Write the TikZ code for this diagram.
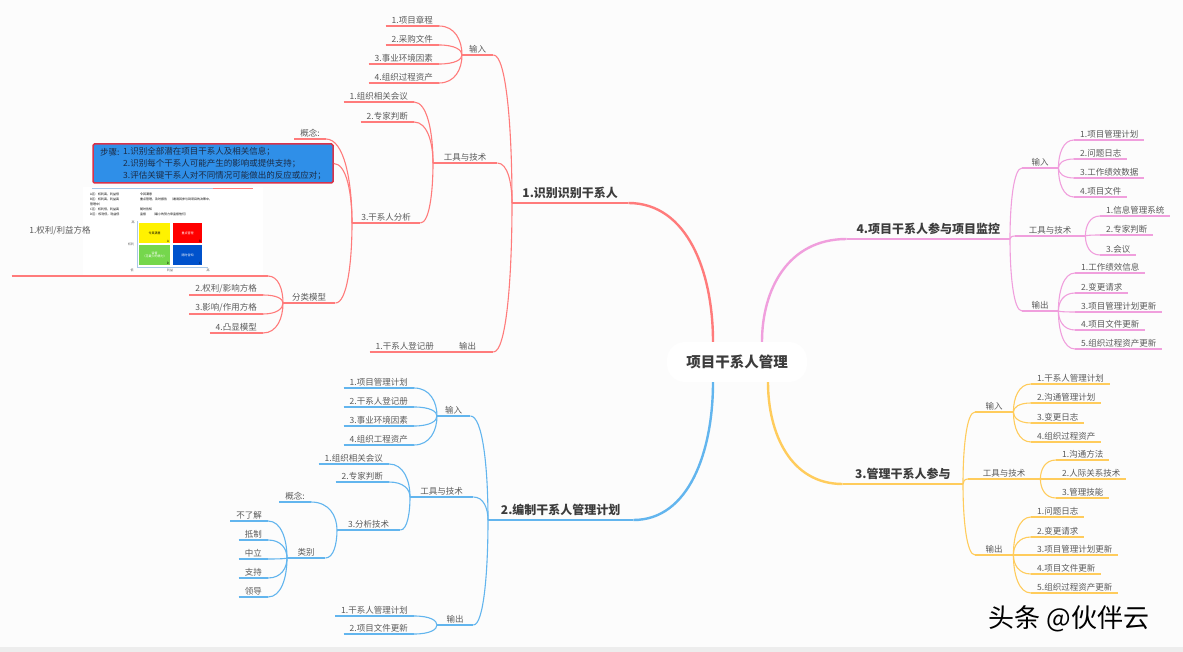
\documentclass[tikz,border=0pt]{standalone}
\usepackage{fontspec}
\setmainfont{Noto Sans CJK SC}
\usetikzlibrary{calc}
\definecolor{bg}{HTML}{FCFCFC}
\definecolor{cR}{HTML}{FF7B7B}
\definecolor{cB}{HTML}{62B5EE}
\definecolor{cP}{HTML}{F09FDD}
\definecolor{cY}{HTML}{FFCC5C}
\definecolor{tx}{HTML}{5A5A5A}
\definecolor{hx}{HTML}{3C3C3C}
\definecolor{boxblue}{HTML}{2F8FE8}
\definecolor{boxred}{HTML}{D8324A}
\definecolor{boxtx}{HTML}{1B2B45}
\definecolor{axis}{HTML}{A8C8E8}
\newcommand\lblf{\fontsize{8.5}{10}\selectfont}
\newcommand\hdf{\fontsize{12}{14}\selectfont\bfseries}
\newcommand\ctrf{\fontsize{14.5}{17}\selectfont\bfseries}
\newcommand\tinf{\fontsize{3}{3.5}\selectfont}
\newcommand\mmC[3][]{\draw[cn,#1] (#2) .. controls ($(#2)!0.5!(#2|-#3)$) and ($(#3)!0.7!(#2|-#3)$) .. (#3);}
\newcommand\leafL[3]{\node[lf,anchor=south east] (#1) at (#2) {#3}; \draw[ul] (#1.south west) -- (#1.south east);}
\newcommand\leafR[3]{\node[lf,anchor=south west] (#1) at (#2) {#3}; \draw[ul] (#1.south west) -- (#1.south east);}
\newcommand\midN[4]{\node[lf,anchor=south west,inner xsep=0pt,minimum width=#2] (#1) at (#3) {#4}; \draw[ul] (#1.south west) -- (#1.south east);}
\tikzset{
  lf/.style={font=\lblf, text=tx, inner xsep=6pt, inner ysep=2pt},
  hd/.style={font=\hdf, text=hx, inner xsep=0pt, inner ysep=4pt},
  tq/.style={font=\tinf, inner sep=0pt, text=black},
}
\begin{document}
\begin{tikzpicture}[x=1pt,y=-1pt]
\useasboundingbox (0,0) rectangle (1183,652);
\fill[bg] (0,0) rectangle (1183,652);
\fill[black!7] (0,647) rectangle (1183,652);

% centre
\node[fill=white, rounded corners=18pt, minimum width=140pt, minimum height=40pt, font=\ctrf, text=hx] (c) at (737,362) {项目干系人管理};
\coordinate (s1) at ([xshift=-24pt]c.north);
\coordinate (s4) at ([xshift=25pt]c.north);
\coordinate (s2) at ([xshift=-24pt]c.south);
\coordinate (s3) at ([xshift=31pt]c.south);

% ---------------- branch 1 (red)
\begin{scope}[ul/.style={draw=cR,line width=1.1pt}, cn/.style={draw=cR,line width=1.1pt}]
\node[hd, anchor=south west, minimum width=116pt] (b1) at (512,203) {1.识别识别干系人};
\draw[ul, line width=1.6pt] (b1.south west) -- (b1.south east);
\mmC[line width=2.4pt]{s1}{b1.south east}
\midN{b1i}{31pt}{462,55}{输入}
\midN{b1t}{64pt}{433,163}{工具与技术}
\midN{b1o}{51pt}{442,352}{输出}
\mmC{b1.south west}{b1i.south east}
\mmC{b1.south west}{b1t.south east}
\mmC{b1.south west}{b1o.south east}
\leafL{b1i1}{439,26}{1.项目章程}
\leafL{b1i2}{439,45}{2.采购文件}
\leafL{b1i3}{439,64}{3.事业环境因素}
\leafL{b1i4}{439,83}{4.组织过程资产}
\foreach \n in {b1i1,b1i2,b1i3,b1i4}{\mmC{b1i.south west}{\n.south east}}
\leafL{b1t1}{414,102}{1.组织相关会议}
\leafL{b1t2}{414,122}{2.专家判断}
\midN{b1t3}{68pt}{352,223}{3.干系人分析}
\foreach \n in {b1t1,b1t2,b1t3}{\mmC{b1t.south west}{\n.south east}}
% children of 3.干系人分析
\leafL{b1a1}{326,139}{概念:}
\node[fill=boxblue, draw=boxred, line width=1.5pt, rounded corners=1.5pt, minimum width=240pt, minimum height=39pt] (b1a2) at (213,163.5) {};
\node[font=\lblf, text=boxtx, anchor=west, inner sep=0pt] (bx0) at (100,152) {步骤:};
\node[font=\lblf, text=boxtx, anchor=west, inner sep=0pt] (bx1) at (123,152) {1.识别全部潜在项目干系人及相关信息；};
\node[font=\lblf, text=boxtx, anchor=west, inner sep=0pt] (bx2) at (123,164) {2.识别每个干系人可能产生的影响或提供支持；};
\node[font=\lblf, text=boxtx, anchor=west, inner sep=0pt] (bx3) at (123,176) {3.评估关键干系人对不同情况可能做出的反应或应对；};
\node[anchor=south east, minimum width=256pt, minimum height=88pt, inner sep=0pt] (b1a3) at (268,276) {};
\draw[ul] (b1a3.south west) -- (b1a3.south east);
\midN{b1a4}{52pt}{283,303}{分类模型}
\mmC{b1t3.south west}{b1a1.south east}
\mmC{b1t3.south west}{b1a2.east}
\mmC{b1t3.south west}{b1a4.south east}
% matrix image
\fill[white] (83,187) rectangle (263,275);
\draw[axis, line width=0.8pt] (92,188) -- (213,188);
\draw[cR, line width=1pt] (213,189) -- (253,189);
\node[tq, anchor=west] (m1) at (90,194) {A区：权利高，利益低};
\node[tq, anchor=west] (m1b) at (140,194) {令其满意};
\node[tq, anchor=west] (m2) at (90,199) {B区：权利高，利益高};
\node[tq, anchor=west] (m2b) at (140,199) {重点管理，及时报告\quad（邀请其参与到项目的决策中，};
\node[tq, anchor=west] (m2c) at (90,204) {管理中）};
\node[tq, anchor=west] (m3) at (90,209) {C区：权利低，利益高};
\node[tq, anchor=west] (m3b) at (140,209) {随时告知};
\node[tq, anchor=west] (m4) at (90,214) {D区：权利低，利益低};
\node[tq, anchor=west] (m4b) at (140,214) {监督\qquad（最小的努力来监督他们）};
\fill[yellow] (139,223) rectangle (170,243);
\fill[red] (173,223) rectangle (202,243);
\fill[green!55!olive!70!white] (139,245) rectangle (170,265);
\fill[blue!60!cyan!80!black] (173,245) rectangle (202,265);
\draw[axis, line width=0.8pt] (137,221) -- (137,267) -- (208,267);
\node[tq] (q1) at (154.5,233) {令其满意};
\node[tq, text=white] (q2) at (187.5,233) {重点管理};
\node[tq, text=white, align=center] (q3) at (154.5,255) {监督\\（花最少的精力）};
\node[tq, text=white] (q4) at (187.5,255) {随时告知};
\node[tq] (qa) at (168,241.5) {A};
\node[tq] (qb) at (200,241.5) {B};
\node[tq] (qd) at (168,263.5) {D};
\node[tq] (qc) at (200,263.5) {C};
\node[tq, text=tx] (ax1) at (133,222) {高};
\node[tq, text=tx] (ax2) at (131,244) {权利};
\node[tq, text=tx] (ax3) at (132,270) {低};
\node[tq, text=tx] (ax4) at (170,270) {利益};
\node[tq, text=tx] (ax5) at (208,270) {高};
\node[lf, anchor=center] (b1m1) at (60,231) {1.权利/利益方格};
\leafL{b1m2}{263,295}{2.权利/影响方格}
\leafL{b1m3}{263,314}{3.影响/作用方格}
\leafL{b1m4}{263,333}{4.凸显模型}
\foreach \n in {b1a3,b1m2,b1m3,b1m4}{\mmC{b1a4.south west}{\n.south east}}
\leafL{b1o1}{440,352}{1.干系人登记册}
\draw[cn] (b1o.south west) -- (b1o1.south east);
\end{scope}

% ---------------- branch 2 (blue)
\begin{scope}[ul/.style={draw=cB,line width=1.1pt}, cn/.style={draw=cB,line width=1.1pt}]
\node[hd, anchor=south west, minimum width=145pt] (b2) at (488,520) {2.编制干系人管理计划};
\draw[ul, line width=1.6pt] (b2.south west) -- (b2.south east);
\mmC[line width=2.4pt]{s2}{b2.south east}
\midN{b2i}{33pt}{437,416}{输入}
\midN{b2t}{63pt}{410,497}{工具与技术}
\midN{b2o}{36pt}{437,625}{输出}
\foreach \n in {b2i,b2t,b2o}{\mmC{b2.south west}{\n.south east}}
\leafL{b2i1}{414,388}{1.项目管理计划}
\leafL{b2i2}{414,407}{2.干系人登记册}
\leafL{b2i3}{414,426}{3.事业环境因素}
\leafL{b2i4}{414,445}{4.组织工程资产}
\foreach \n in {b2i1,b2i2,b2i3,b2i4}{\mmC{b2i.south west}{\n.south east}}
\leafL{b2t1}{389,464}{1.组织相关会议}
\leafL{b2t2}{389,482}{2.专家判断}
\midN{b2t3}{63pt}{337,530}{3.分析技术}
\foreach \n in {b2t1,b2t2,b2t3}{\mmC{b2t.south west}{\n.south east}}
\leafL{b2a1}{311,502}{概念:}
\midN{b2c}{38pt}{287,558}{类别}
\foreach \n in {b2a1,b2c}{\mmC{b2t3.south west}{\n.south east}}
\leafL{b2c1}{268,521}{不了解}
\leafL{b2c2}{268,540}{抵制}
\leafL{b2c3}{268,559}{中立}
\leafL{b2c4}{268,578}{支持}
\leafL{b2c5}{268,597}{领导}
\foreach \n in {b2c1,b2c2,b2c3,b2c4,b2c5}{\mmC{b2c.south west}{\n.south east}}
\leafL{b2o1}{414,616}{1.干系人管理计划}
\leafL{b2o2}{414,634}{2.项目文件更新}
\foreach \n in {b2o1,b2o2}{\mmC{b2o.south west}{\n.south east}}
\end{scope}

% ---------------- branch 4 (pink)
\begin{scope}[ul/.style={draw=cP,line width=1.1pt}, cn/.style={draw=cP,line width=1.1pt}]
\node[hd, anchor=south east, minimum width=163pt] (b4) at (1010,239) {4.项目干系人参与项目监控};
\draw[ul, line width=1.6pt] (b4.south west) -- (b4.south east);
\mmC[line width=2.4pt]{s4}{b4.south west}
\midN{b4i}{36pt}{1022,168}{输入}
\midN{b4t}{70pt}{1015,236}{工具与技术}
\midN{b4o}{36pt}{1022,311}{输出}
\foreach \n in {b4i,b4t,b4o}{\mmC{b4.south east}{\n.south west}}
\leafR{b4i1}{1074,140}{1.项目管理计划}
\leafR{b4i2}{1074,159}{2.问题日志}
\leafR{b4i3}{1074,178}{3.工作绩效数据}
\leafR{b4i4}{1074,197}{4.项目文件}
\foreach \n in {b4i1,b4i2,b4i3,b4i4}{\mmC{b4i.south east}{\n.south west}}
\leafR{b4t1}{1100,216}{1.信息管理系统}
\leafR{b4t2}{1100,235}{2.专家判断}
\leafR{b4t3}{1100,255}{3.会议}
\foreach \n in {b4t1,b4t2,b4t3}{\mmC{b4t.south east}{\n.south west}}
\leafR{b4o1}{1075,273}{1.工作绩效信息}
\leafR{b4o2}{1075,293}{2.变更请求}
\leafR{b4o3}{1075,312}{3.项目管理计划更新}
\leafR{b4o4}{1075,330}{4.项目文件更新}
\leafR{b4o5}{1075,349}{5.组织过程资产更新}
\foreach \n in {b4o1,b4o2,b4o3,b4o4,b4o5}{\mmC{b4o.south east}{\n.south west}}
\end{scope}

% ---------------- branch 3 (yellow)
\begin{scope}[ul/.style={draw=cY,line width=1.1pt}, cn/.style={draw=cY,line width=1.1pt}]
\node[hd, anchor=south east, minimum width=120pt] (b3) at (963,484) {3.管理干系人参与};
\draw[ul, line width=1.6pt] (b3.south west) -- (b3.south east);
\mmC[line width=2.4pt]{s3}{b3.south west}
\midN{b3i}{38pt}{975,412}{输入}
\midN{b3t}{72pt}{968,479}{工具与技术}
\midN{b3o}{38pt}{975,555}{输出}
\foreach \n in {b3i,b3t,b3o}{\mmC{b3.south east}{\n.south west}}
\leafR{b3i1}{1031,384}{1.干系人管理计划}
\leafR{b3i2}{1031,403}{2.沟通管理计划}
\leafR{b3i3}{1031,423}{3.变更日志}
\leafR{b3i4}{1031,442}{4.组织过程资产}
\foreach \n in {b3i1,b3i2,b3i3,b3i4}{\mmC{b3i.south east}{\n.south west}}
\leafR{b3t1}{1056,460}{1.沟通方法}
\leafR{b3t2}{1056,479}{2.人际关系技术}
\leafR{b3t3}{1056,498}{3.管理技能}
\foreach \n in {b3t1,b3t2,b3t3}{\mmC{b3t.south east}{\n.south west}}
\leafR{b3o1}{1031,517}{1.问题日志}
\leafR{b3o2}{1031,537}{2.变更请求}
\leafR{b3o3}{1031,555}{3.项目管理计划更新}
\leafR{b3o4}{1031,574}{4.项目文件更新}
\leafR{b3o5}{1031,593}{5.组织过程资产更新}
\foreach \n in {b3o1,b3o2,b3o3,b3o4,b3o5}{\mmC{b3o.south east}{\n.south west}}
\end{scope}

% watermark
\node[font=\fontsize{26}{30}\selectfont, text=black] (wm) at (1069,619) {头条 @伙伴云};
\end{tikzpicture}
\end{document}
